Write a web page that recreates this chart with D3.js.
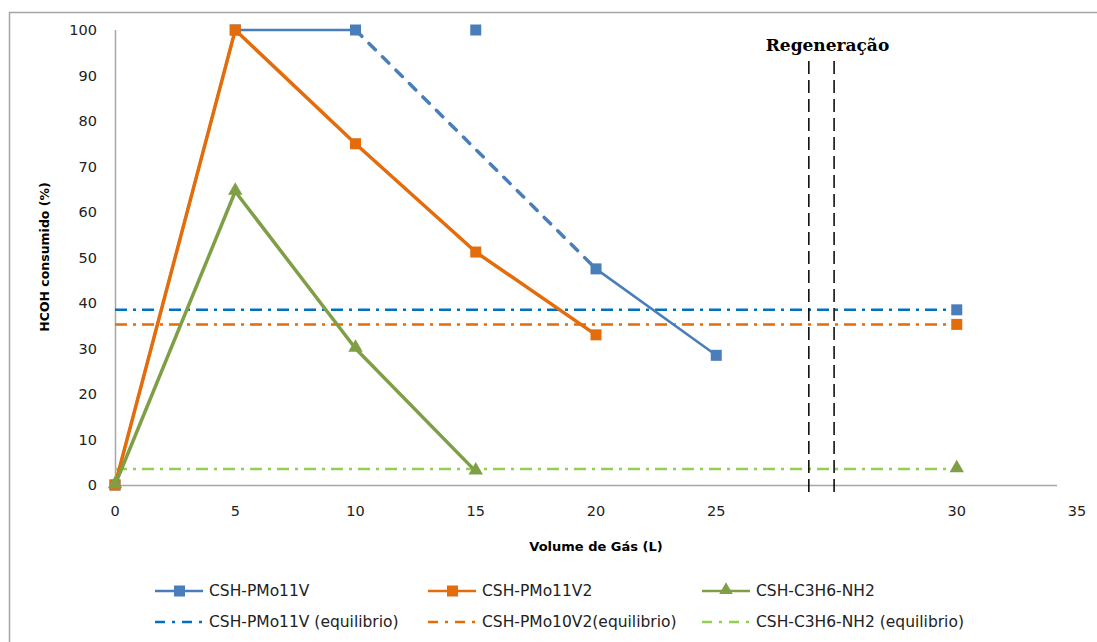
<!DOCTYPE html>
<html>
<head>
<meta charset="utf-8">
<script src="https://cdn.jsdelivr.net/npm/d3@7"></script>
<style>
  body { margin: 0; background: #fff; }
  svg text { font-family: "DejaVu Sans", "Liberation Sans", sans-serif; }
</style>
</head>
<body>
<div id="chart-area"></div>
<script>
// x categories (blank slot where the regeneration happened)
const categories = ["0", "5", "10", "15", "20", "25", "", "30", "35"]
const yTicks = [0, 10, 20, 30, 40, 50, 60, 70, 80, 90, 100]

// series values per category (null = no point)
const pmo11vSolid  = [0, 100, 100, null, 47.5, 28.5, null, null, null]
const pmo11vDashed = [null, null, 100, null, 47.5, null, null, null, null]
const pmo11vMarks  = [0, 100, 100, 100, 47.5, 28.5, null, 38.5, null]
const pmo11v2      = [0, 100, 75, 51.2, 33, null, null, null, null]
const pmo11v2Marks = [0, 100, 75, 51.2, 33, null, null, 35.3, null]
const c3h6         = [0, 64.5, 30, 3, null, null, null, null, null]
const c3h6Marks    = [0, 64.5, 30, 3, null, null, null, 3.5, null]

// equilibrium levels
const eqPmo11v = 38.5
const eqPmo10v2 = 35.3
const eqC3h6 = 3.5

// regeneration markers, as slot positions inside the blank category
const regenSlots = [5.77, 5.98]

const W = 1097, H = 642
const svg = d3.select("#chart-area").append("svg")
	.attr("width", W)
	.attr("height", H)

// outer frame
svg.append("rect")
	.attr("x", 9.5).attr("y", 12.5)
	.attr("width", 1100).attr("height", 650)
	.attr("fill", "none").attr("stroke", "#a6a6a6").attr("stroke-width", 1.5)

// scales
const slot = d3.scaleLinear().domain([0, categories.length - 1]).range([115, 1077])
const y = d3.scaleLinear().domain([0, 100]).range([485, 30])

// axes
svg.append("line")
	.attr("x1", 115.5).attr("x2", 115.5).attr("y1", y(100)).attr("y2", y(0))
	.attr("stroke", "#a6a6a6").attr("stroke-width", 1.5)
svg.append("line")
	.attr("x1", 115).attr("x2", 1057).attr("y1", y(0) + 0.5).attr("y2", y(0) + 0.5)
	.attr("stroke", "#a6a6a6").attr("stroke-width", 1.5)

svg.selectAll(".ytick").data(yTicks).enter().append("text")
	.attr("class", "ytick")
	.attr("x", 97).attr("y", d => y(d))
	.attr("dy", "0.35em")
	.attr("text-anchor", "end")
	.attr("font-size", 14.5)
	.attr("fill", "#222")
	.text(d => d)

svg.selectAll(".xtick").data(categories).enter().append("text")
	.attr("class", "xtick")
	.attr("x", (d, i) => slot(i)).attr("y", 511)
	.attr("dy", "0.35em")
	.attr("text-anchor", "middle")
	.attr("font-size", 14.5)
	.attr("fill", "#222")
	.text(d => d)

// axis titles
svg.append("text")
	.attr("transform", `translate(49, 257) rotate(-90)`)
	.attr("text-anchor", "middle")
	.attr("font-size", 12.5).attr("font-weight", "bold")
	.text("HCOH consumido (%)")
svg.append("text")
	.attr("x", 596).attr("y", 546)
	.attr("dy", "0.35em")
	.attr("text-anchor", "middle")
	.attr("font-size", 13).attr("font-weight", "bold")
	.text("Volume de Gás (L)")

const COL = {
	blue: "#4a7ebb", orange: "#e46c0a", green: "#7f9f47",
	eqBlue: "#0070c0", eqOrange: "#e36c09", eqGreen: "#92d050"
}
const dashDot = "12,6,3,6"

// equilibrium lines up to the "30" category
const eqLines = [
	{ v: eqPmo11v, c: COL.eqBlue },
	{ v: eqPmo10v2, c: COL.eqOrange },
	{ v: eqC3h6, c: COL.eqGreen }
]
svg.selectAll(".eq").data(eqLines).enter().append("line")
	.attr("class", "eq")
	.attr("x1", slot(0)).attr("x2", slot(categories.indexOf("30")))
	.attr("y1", d => y(d.v)).attr("y2", d => y(d.v))
	.attr("stroke", d => d.c).attr("stroke-width", 2.5)
	.attr("stroke-dasharray", dashDot)

// regeneration
svg.selectAll(".regen").data(regenSlots).enter().append("line")
	.attr("class", "regen")
	.attr("x1", d => slot(d)).attr("x2", d => slot(d))
	.attr("y1", 61).attr("y2", 494)
	.attr("stroke", "#000").attr("stroke-width", 1.5)
	.attr("stroke-dasharray", "13,6")
svg.append("text")
	.attr("x", slot(d3.mean(regenSlots)) + 6).attr("y", 45)
	.attr("dy", "0.35em")
	.attr("text-anchor", "middle")
	.style("font-family", "'DejaVu Serif', 'Liberation Serif', serif")
	.attr("font-size", 17).attr("font-weight", "bold")
	.text("Regeneração")

// line generator
const line = d3.line()
	.defined(d => d != null)
	.x((d, i) => slot(i))
	.y(d => y(d))

function drawLine(vals, color, width, dash) {
	// drop nulls but keep index for x
	const pts = vals.map((v, i) => [i, v]).filter(p => p[1] != null)
	svg.append("path")
		.attr("d", d3.line().x(p => slot(p[0])).y(p => y(p[1]))(pts))
		.attr("fill", "none")
		.attr("stroke", color)
		.attr("stroke-width", width)
		.attr("stroke-linecap", dash ? "round" : "butt")
		.attr("stroke-linejoin", "round")
		.attr("stroke-dasharray", dash || null)
}

function drawSquares(vals, color) {
	const pts = vals.map((v, i) => [i, v]).filter(p => p[1] != null)
	svg.append("g").selectAll("rect").data(pts).enter().append("rect")
		.attr("x", p => slot(p[0]) - 5.5).attr("y", p => y(p[1]) - 5.5)
		.attr("width", 11).attr("height", 11)
		.attr("fill", color)
}

function drawTriangles(vals, color) {
	const pts = vals.map((v, i) => [i, v]).filter(p => p[1] != null)
	const tri = d3.symbol().type(d3.symbolTriangle).size(90)
	svg.append("g").selectAll("path").data(pts).enter().append("path")
		.attr("d", tri)
		.attr("transform", p => `translate(${slot(p[0])}, ${y(p[1]) - 1})`)
		.attr("fill", color)
}

// CSH-PMo11V: solid parts + dashed bridge
svg.append("path")
	.attr("d", line(pmo11vSolid))
	.attr("fill", "none").attr("stroke", COL.blue).attr("stroke-width", 2.5)
drawLine(pmo11vDashed, COL.blue, 3.5, "9,10")
drawSquares(pmo11vMarks, COL.blue)

// CSH-PMo11V2
drawLine(pmo11v2, COL.orange, 3.5)
drawSquares(pmo11v2Marks, COL.orange)

// CSH-C3H6-NH2
drawLine(c3h6, COL.green, 3.5)
drawTriangles(c3h6Marks, COL.green)

// legend
const legendItems = [
	{ name: "CSH-PMo11V", c: COL.blue, mark: "sq", x: 155, y: 591 },
	{ name: "CSH-PMo11V2", c: COL.orange, mark: "sq", x: 428, y: 591 },
	{ name: "CSH-C3H6-NH2", c: COL.green, mark: "tri", x: 702, y: 591 },
	{ name: "CSH-PMo11V (equilibrio)", c: COL.eqBlue, mark: "eq", x: 155, y: 622 },
	{ name: "CSH-PMo10V2(equilibrio)", c: COL.eqOrange, mark: "eq", x: 428, y: 622 },
	{ name: "CSH-C3H6-NH2 (equilibrio)", c: COL.eqGreen, mark: "eq", x: 702, y: 622 }
]
const lg = svg.selectAll(".legend").data(legendItems).enter().append("g")
	.attr("class", "legend")
	.attr("transform", d => `translate(${d.x}, ${d.y})`)
lg.append("line")
	.attr("x1", 0).attr("x2", 48).attr("y1", 0).attr("y2", 0)
	.attr("stroke", d => d.c)
	.attr("stroke-width", 2.5)
	.attr("stroke-dasharray", d => d.mark === "eq" ? "10,7,3,7" : null)
lg.filter(d => d.mark === "sq").append("rect")
	.attr("x", 19).attr("y", -5.5).attr("width", 11).attr("height", 11)
	.attr("fill", d => d.c)
lg.filter(d => d.mark === "tri").append("path")
	.attr("d", d3.symbol().type(d3.symbolTriangle).size(80))
	.attr("transform", "translate(24, -1)")
	.attr("fill", d => d.c)
lg.append("text")
	.attr("x", 54).attr("y", 0).attr("dy", "0.35em")
	.attr("font-size", 15.5).attr("fill", "#222")
	.text(d => d.name)
</script>
</body>
</html>
